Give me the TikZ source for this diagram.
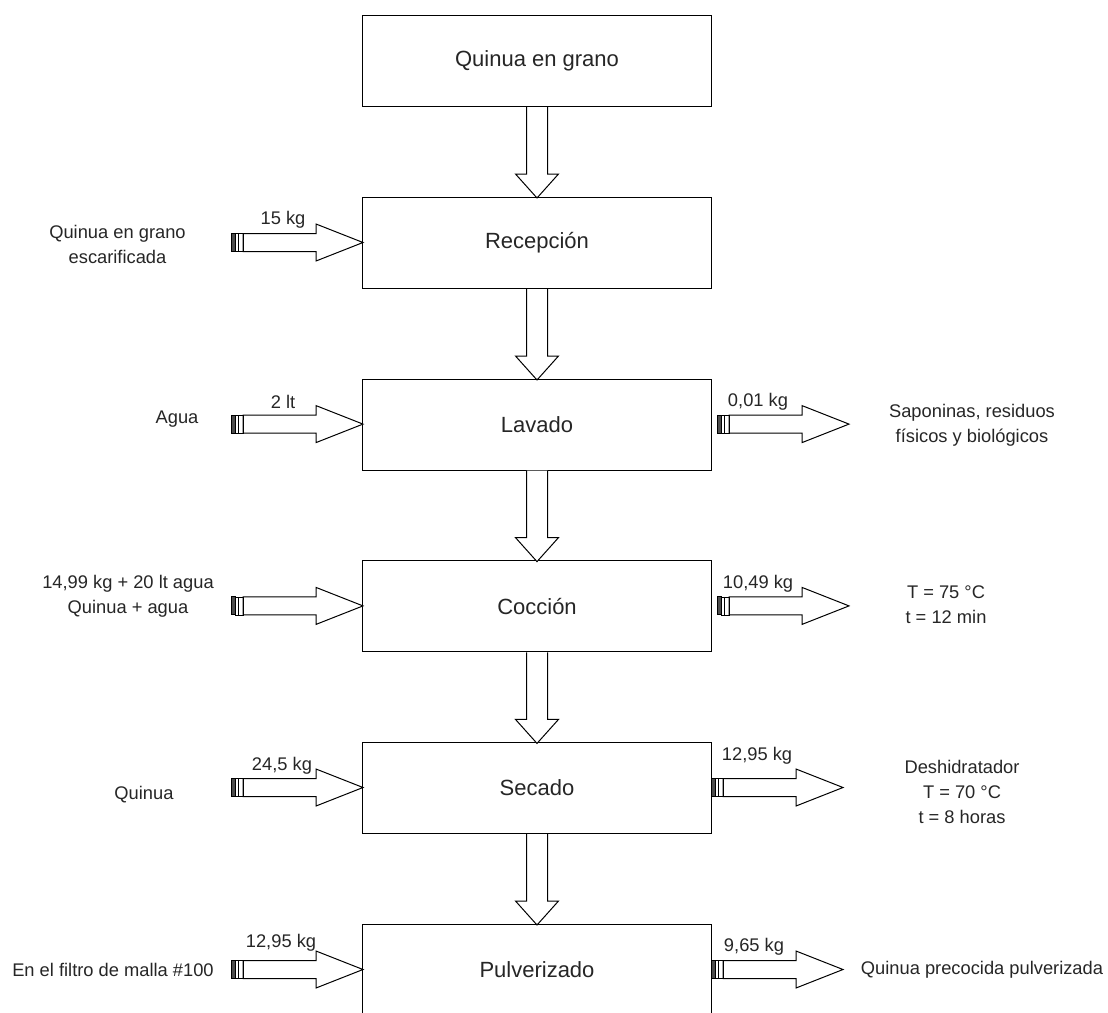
\documentclass[tikz,border=0pt]{standalone}
\usepackage{fontspec}
\setmainfont{Liberation Sans}
\begin{document}
\begin{tikzpicture}[x=1pt,y=-1pt,
  box/.style={draw=black,line width=1pt,rectangle,inner sep=0pt,minimum width=349pt,minimum height=91pt,anchor=north west,font=\fontsize{22}{26}\selectfont,text=black!85},
  lbl/.style={inner sep=0pt,align=center,font=\fontsize{18.3}{25}\selectfont,text=black!85},
  arr/.style={draw=black,line width=1pt,fill=white,line join=miter}]
\fill[white] (0,0) rectangle (1108,1012);
\useasboundingbox (0,0) rectangle (1108,1012);

% boxes
\node[box] (b1) at (362,15) {Quinua en grano};
\node[box] (b2) at (362,197) {Recepción};
\node[box] (b3) at (362,378.6) {Lavado};
\node[box] (b4) at (362,560.4) {Cocción};
\node[box] (b5) at (362,742) {Secado};
\node[box] (b6) at (362,924) {Pulverizado};

% down block arrows
\foreach \a in {b1,b2,b3,b4,b5}{
  \draw[arr,shift={(\a.south)}] (-10.5,0) -- (-10.5,67) -- (-21.5,67) -- (0,91) -- (21.5,67) -- (10.5,67) -- (10.5,0);
}

% horizontal block arrow: tail coordinate given
\newcommand\blockarr[1]{%
  \draw[arr,shift={(#1)}] (12,-9) -- (85,-9) -- (85,-18.5) -- (132,0) -- (85,18.5) -- (85,9) -- (12,9) -- cycle;
  \draw[line width=1pt,fill=black!70,shift={(#1)}] (0,-9) rectangle (4,9);
  \draw[line width=0.8pt,shift={(#1)}] (4,-9) rectangle (12,9);
  \draw[line width=0.8pt,shift={(#1)}] (7.5,-9) -- (7.5,9);
}

% input arrows (left)
\coordinate (i2) at (231,242.5);
\coordinate (i3) at (231,424.1);
\coordinate (i4) at (231,605.9);
\coordinate (i5) at (231,787.5);
\coordinate (i6) at (231,969.5);
\blockarr{i2}\blockarr{i3}\blockarr{i4}\blockarr{i5}\blockarr{i6}

% output arrows (right)
\coordinate (o3) at (717,424.1);
\coordinate (o4) at (717,605.9);
\coordinate (o5) at (711,787.5);
\coordinate (o6) at (711,969.5);
\blockarr{o3}\blockarr{o4}\blockarr{o5}\blockarr{o6}

% left texts
\node[lbl] (t2) at (117.5,244.5) {Quinua en grano\\escarificada};
\node[lbl] (t3) at (177,419) {Agua};
\node[lbl] (t4) at (128,596) {14,99 kg + 20 lt agua\\Quinua + agua};
\node[lbl] (t5) at (144,795) {Quinua};
\node[lbl] (t6) at (113,970) {En el filtro de malla \#100};

% arrow labels left
\node[lbl] (q2) at (283,220) {15 kg};
\node[lbl] (q3) at (283,402) {2 lt};
\node[lbl] (q5) at (282,766) {24,5 kg};
\node[lbl] (q6) at (281,943) {12,95 kg};

% arrow labels right
\node[lbl] (r3) at (758,402) {0,01 kg};
\node[lbl] (r4) at (758,584) {10,49 kg};
\node[lbl] (r5) at (757,756) {12,95 kg};
\node[lbl] (r6) at (754,947) {9,65 kg};

% right texts
\node[lbl] (s3) at (972,425.5) {Saponinas, residuos\\físicos y biológicos};
\node[lbl] (s4) at (946,605) {T = 75 °C\\t = 12 min};
\node[lbl] (s5) at (962,791.5) {Deshidratador\\T = 70 °C\\t = 8 horas};
\node[lbl] (s6) at (982,970) {Quinua precocida pulverizada};
\end{tikzpicture}
\end{document}
